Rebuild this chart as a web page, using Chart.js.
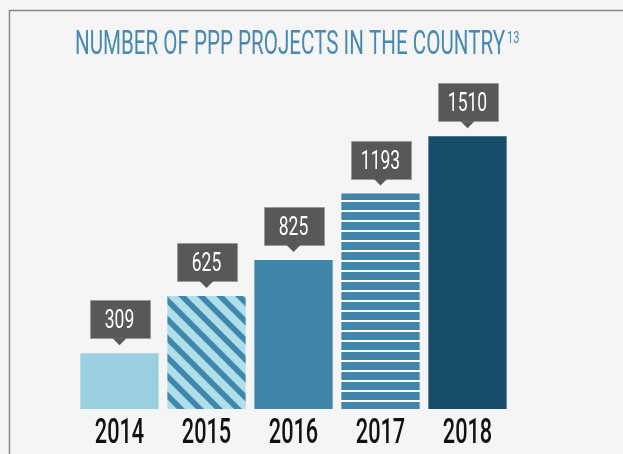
<!DOCTYPE html>
<html>
<head>
<meta charset="utf-8">
<script src="https://cdn.jsdelivr.net/npm/chart.js@4.4.1/dist/chart.umd.min.js"></script>
<style>
  html, body { margin: 0; padding: 0; background: #f5f5f5; }
  #wrap { width: 623px; height: 454px; }
</style>
</head>
<body>
<div id="wrap"><canvas id="ppp_projects" width="623" height="454"></canvas></div>
<script>
const years = ['2014', '2015', '2016', '2017', '2018'];
const projects = [309, 625, 825, 1193, 1510];
const titleText = 'NUMBER OF PPP PROJECTS IN THE COUNTRY';
const titleNote = '13';

const FONT = 'Roboto, "Liberation Sans", sans-serif';

// diagonal stripes for 2015
function diagonalStripes() {
  const s = 19;
  const c = document.createElement('canvas');
  c.width = s; c.height = s;
  const g = c.getContext('2d');
  g.fillStyle = '#b1dfe9';
  g.fillRect(0, 0, s, s);
  g.strokeStyle = '#3e87ad';
  g.lineWidth = 5.7;
  for (const off of [-s, 0, s]) {
    g.beginPath();
    g.moveTo(off - 2, -2);
    g.lineTo(off + s + 2, s + 2);
    g.stroke();
  }
  return g.createPattern(c, 'repeat');
}

// horizontal lines for 2017
function horizontalStripes() {
  const c = document.createElement('canvas');
  c.width = 10; c.height = 10;
  const g = c.getContext('2d');
  g.fillStyle = '#4185ab';
  g.fillRect(0, 0, 10, 10);
  g.fillStyle = '#ffffff';
  g.fillRect(0, 0, 10, 2);
  return g.createPattern(c, 'repeat');
}

const barColors = ['#9acfdf', diagonalStripes(), '#4086ab', horizontalStripes(), '#174e6b'];

// condensed text: squeeze horizontally
function squeezedText(ctx, text, x, y, scale, align) {
  ctx.save();
  const w = ctx.measureText(text).width * scale;
  let left = x;
  if (align === 'center') left = x - w / 2;
  ctx.translate(left, y);
  ctx.scale(scale, 1);
  ctx.textAlign = 'left';
  ctx.fillText(text, 0, 0);
  ctx.restore();
  return w;
}

const frame = {
  id: 'frame',
  beforeDraw(chart) {
    const ctx = chart.ctx;
    ctx.save();
    ctx.fillStyle = '#f5f5f5';
    ctx.fillRect(0, 0, chart.width, chart.height);
    ctx.strokeStyle = '#8a8a8a';
    ctx.lineWidth = 1.5;
    ctx.beginPath();
    ctx.moveTo(9.5, chart.height);
    ctx.lineTo(9.5, 10.5);
    ctx.lineTo(chart.width, 10.5);
    ctx.stroke();

    // title
    ctx.fillStyle = '#4689b1';
    ctx.font = '33px ' + FONT;
    ctx.textBaseline = 'alphabetic';
    const raw = ctx.measureText(titleText).width;
    const w = squeezedText(ctx, titleText, 75, 54, 430 / raw, 'left');
    ctx.font = '17px ' + FONT;
    squeezedText(ctx, titleNote, 75 + w + 2, 43, 0.65, 'left');
    ctx.restore();
  }
};

const callouts = {
  id: 'callouts',
  afterDatasetsDraw(chart) {
    const ctx = chart.ctx;
    const bars = chart.getDatasetMeta(0).data;
    ctx.save();
    bars.forEach((bar, i) => {
      const tip = bar.y - 8;
      const boxBottom = tip - 7;
      const boxTop = boxBottom - 38;
      ctx.fillStyle = '#58585a';
      ctx.strokeStyle = '#9a9a9a';
      ctx.lineWidth = 1;
      ctx.beginPath();
      ctx.rect(Math.round(bar.x - 30) + 0.5, Math.round(boxTop) + 0.5, 60, 38);
      ctx.fill();
      ctx.stroke();
      ctx.beginPath();
      ctx.moveTo(bar.x - 7, boxBottom);
      ctx.lineTo(bar.x, tip);
      ctx.lineTo(bar.x + 7, boxBottom);
      ctx.closePath();
      ctx.fill();

      ctx.fillStyle = '#ffffff';
      ctx.font = '25px ' + FONT;
      ctx.textBaseline = 'alphabetic';
      squeezedText(ctx, String(projects[i]), bar.x, boxTop + 28, 0.7, 'center');

      // year label under the bar
      ctx.fillStyle = '#111111';
      ctx.font = '500 35px ' + FONT;
      squeezedText(ctx, years[i], bar.x, 443, 0.62, 'center');
    });
    ctx.restore();
  }
};

new Chart(document.getElementById('ppp_projects'), {
  type: 'bar',
  data: {
    labels: years,
    datasets: [{
      data: projects,
      backgroundColor: barColors,
      borderWidth: 0,
      barPercentage: 0.9,
      categoryPercentage: 1.0
    }]
  },
  options: {
    responsive: false,
    animation: false,
    devicePixelRatio: 1,
    layout: { padding: { left: 76, right: 112, top: 120, bottom: 45 } },
    plugins: { legend: { display: false }, tooltip: { enabled: false } },
    scales: {
      x: { display: false },
      y: { display: false, min: 0, max: 1600 }
    }
  },
  plugins: [frame, callouts]
});
</script>
</body>
</html>
